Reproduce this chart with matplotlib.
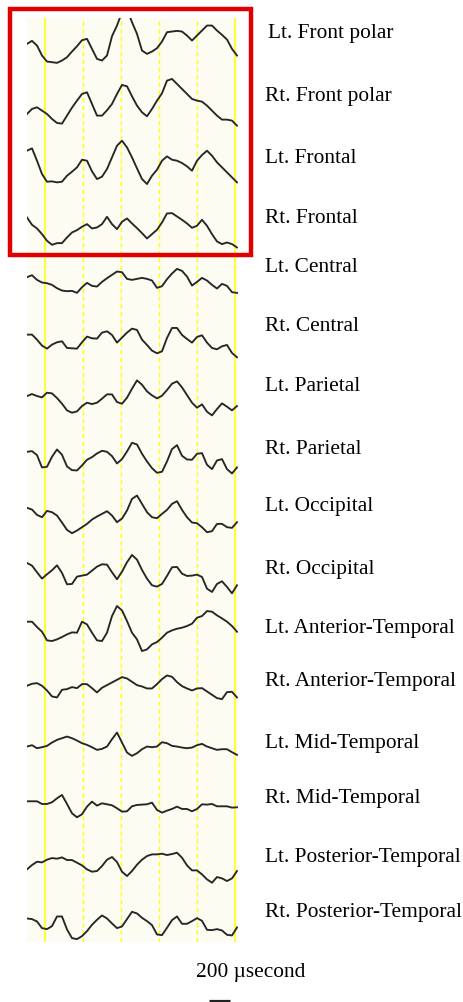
import numpy as np
import matplotlib.pyplot as plt
from matplotlib.patches import Rectangle
from matplotlib.lines import Line2D

# channel names, top to bottom
channels = ['Lt. Front polar', 'Rt. Front polar', 'Lt. Frontal', 'Rt. Frontal',
            'Lt. Central', 'Rt. Central', 'Lt. Parietal', 'Rt. Parietal',
            'Lt. Occipital', 'Rt. Occipital', 'Lt. Anterior-Temporal',
            'Rt. Anterior-Temporal', 'Lt. Mid-Temporal', 'Rt. Mid-Temporal',
            'Lt. Posterior-Temporal', 'Rt. Posterior-Temporal']

# sample times (ms) and amplitudes (uV)
t_ms = np.arange(43) * 5.0
fp1 = [9, 18, 4, -26, -44, -46, -48, -41, -31, -14, 2, 20, 24, -6, -36, -41, -26, 32, 64, 104, 114, 74, 39, -11, -21, -14, -4, 16, 44, 46, 48, 46, 34, 19, 34, 49, 64, 64, 49, 36, 22, -6, -26]
fp2 = [-28, -13, -8, -18, -28, -43, -55, -57, -33, -9, 12, 32, 37, 2, -33, -33, -17, 2, 32, 59, 55, 25, -3, -23, -35, -13, 12, 34, 72, 77, 62, 47, 32, 17, 12, 9, -3, -18, -33, -45, -45, -48, -63]
f3 = [35, 42, 5, -35, -58, -57, -60, -58, -40, -28, -15, 8, 5, -27, -50, -43, -20, 15, 50, 65, 45, 15, -18, -50, -65, -40, -22, 5, 18, 8, 5, -2, -12, -25, 5, 22, 35, 20, 0, -15, -30, -45, -60]
f4 = [8, -14, -25, -42, -62, -74, -69, -69, -52, -37, -30, -20, -12, -25, -22, -12, 10, -12, -27, -5, 5, -10, -24, -39, -55, -42, -29, -7, 20, 21, 11, 1, -10, -23, -17, 1, -17, -42, -64, -72, -67, -72, -82]
c3 = [2, 8, -6, -14, -16, -21, -31, -38, -40, -39, -45, -28, -15, -24, -26, -12, -1, 9, 19, 17, -3, -6, -3, 0, -3, -8, -30, -25, -4, 13, 27, 21, 4, -23, -12, 0, -8, -21, -32, -18, -24, -43, -45]
c4 = [3, 3, -12, -30, -39, -27, -20, -17, -37, -38, -39, -20, -3, -8, -9, 9, 13, 2, -21, -6, 9, 21, 17, -12, -28, -45, -53, -47, -7, 23, 23, 2, -10, -21, -4, 1, -21, -37, -41, -32, -28, -52, -65]
p3 = [-8, -2, -8, -12, 2, 0, -14, -31, -51, -58, -54, -38, -28, -32, -28, -16, -3, -3, -26, -31, -13, 14, 39, 26, 6, -6, -15, -7, 10, 29, 36, 18, -5, -28, -43, -33, -55, -66, -47, -30, -40, -51, -38]
p4 = [-2, 0, -12, -49, -47, -17, 5, -11, -46, -57, -58, -43, -26, -18, -7, 1, -2, -15, -37, -24, -1, 25, 20, -8, -31, -51, -65, -62, -31, 6, 18, -14, -25, -26, -8, -6, -41, -54, -28, -24, -54, -67, -49]
o1 = [3, -2, -18, -25, -6, -10, -20, -41, -63, -73, -65, -55, -45, -32, -23, -15, -7, -20, -40, -29, -5, 30, 40, 15, -10, -25, -28, -15, -3, 15, 23, -3, -25, -41, -43, -55, -70, -67, -45, -45, -55, -57, -40]
o2 = [11, 3, -17, -36, -23, -11, 4, -19, -53, -52, -30, -27, -24, -12, 0, 7, 6, -17, -38, -15, 13, 35, 21, -10, -36, -56, -60, -52, -28, -2, -1, -21, -28, -27, -24, -31, -66, -76, -52, -44, -61, -80, -56]
f7 = [8, 8, -8, -22, -48, -50, -45, -38, -30, -24, -25, 8, 0, -25, -48, -50, -25, 25, 55, 42, 10, -25, -45, -80, -75, -60, -53, -40, -25, -18, -13, -10, -5, 2, 20, 25, 40, 38, 27, 18, 8, -5, -22]
f8 = [-11, -5, -3, -11, -25, -43, -46, -23, -21, -15, -18, -6, -6, -18, -31, -17, -9, -1, 7, 15, 11, 1, -9, -13, -19, -19, -6, 9, 20, 16, 0, -12, -19, -25, -19, -18, -28, -38, -48, -51, -30, -29, -46]
t3 = [-20, -16, -25, -22, -18, -8, 0, 5, 10, 5, -2, -10, -15, -22, -30, -27, -20, 2, 22, -8, -38, -48, -40, -28, -20, -22, -20, -7, -10, -18, -20, -23, -25, -23, -16, -12, -20, -25, -30, -28, -28, -37, -45]
t4 = [-11, -11, -11, -19, -19, -14, -2, 8, -19, -47, -59, -50, -27, -12, -24, -17, -20, -23, -32, -42, -41, -26, -22, -21, -20, -15, -37, -45, -39, -34, -27, -34, -34, -41, -34, -20, -21, -19, -26, -26, -26, -30, -29]
t5 = [-42, -29, -19, -21, -13, -8, -10, -6, -14, -14, -22, -30, -42, -49, -47, -32, -13, -5, -20, -49, -62, -47, -28, -13, -2, 3, 3, 5, 1, 4, 8, -7, -30, -45, -45, -57, -72, -82, -65, -69, -77, -69, -47]
t6 = [-16, -18, -25, -45, -48, -39, -10, -10, -49, -75, -78, -69, -54, -35, -20, -7, -16, -31, -45, -40, -18, 4, -1, -14, -24, -36, -64, -66, -44, -21, -10, -32, -32, -24, -15, -23, -50, -51, -48, -52, -65, -67, -43]
traces = [fp1, fp2, f3, f4, c3, c4, p3, p4, o1, o2, f7, f8, t3, t4, t5, t6]

# time markers on the recording (ms)
marks_ms = 17.7 + 38.0 * np.arange(6)
uv_per_row = 173.25

W, H = 463, 1003
fig = plt.figure(figsize=(W / 100, H / 100), dpi=100)
fig.patch.set_facecolor('white')

ax = fig.add_axes([27 / W, 1 - 943 / H, 211 / W, 924 / H])
ax.set_facecolor('#fcfcf3')
ax.set_xlim(0, 211)
ax.set_ylim(len(channels), 0)
ax.set_xticks([])
ax.set_yticks([])
for s in ax.spines.values():
    s.set_visible(False)

for k, x in enumerate(marks_ms):
    solid = k in (0, len(marks_ms) - 1)
    ax.axvline(x, color='#ffff00', lw=1.1 if solid else 1.0,
               ls='-' if solid else (0, (3, 2.5)), zorder=1)

for i, v in enumerate(traces):
    ax.plot(t_ms, i + 0.5 - np.array(v) / uv_per_row, color='#262626', lw=1.35,
            zorder=2, solid_joinstyle='round')

# channel labels
label_base = [38, 101, 163, 223, 272, 331, 391, 454, 511, 574, 633, 686, 748, 803, 862, 917]
for i, name in enumerate(channels):
    x0 = 268 if i == 0 else 265
    fig.text(x0 / W, 1 - label_base[i] / H, name, fontsize=15.4,
             family='Liberation Serif', va='baseline', ha='left')

fig.text(251 / W, 1 - 977 / H, '200 \u00b5second', fontsize=15.4,
         family='Liberation Serif', va='baseline', ha='center')
fig.add_artist(Line2D([209 / W, 230 / W], [1 - 1001.5 / H] * 2, color='#222222',
                      lw=2.3, solid_capstyle='butt'))

fig.add_artist(Rectangle((9.5 / W, 1 - 255.5 / H), 241.5 / W, 246 / H,
                         transform=fig.transFigure, fill=False,
                         ec='#e00000', lw=3.2))

fig.savefig('out.png', dpi=100)
